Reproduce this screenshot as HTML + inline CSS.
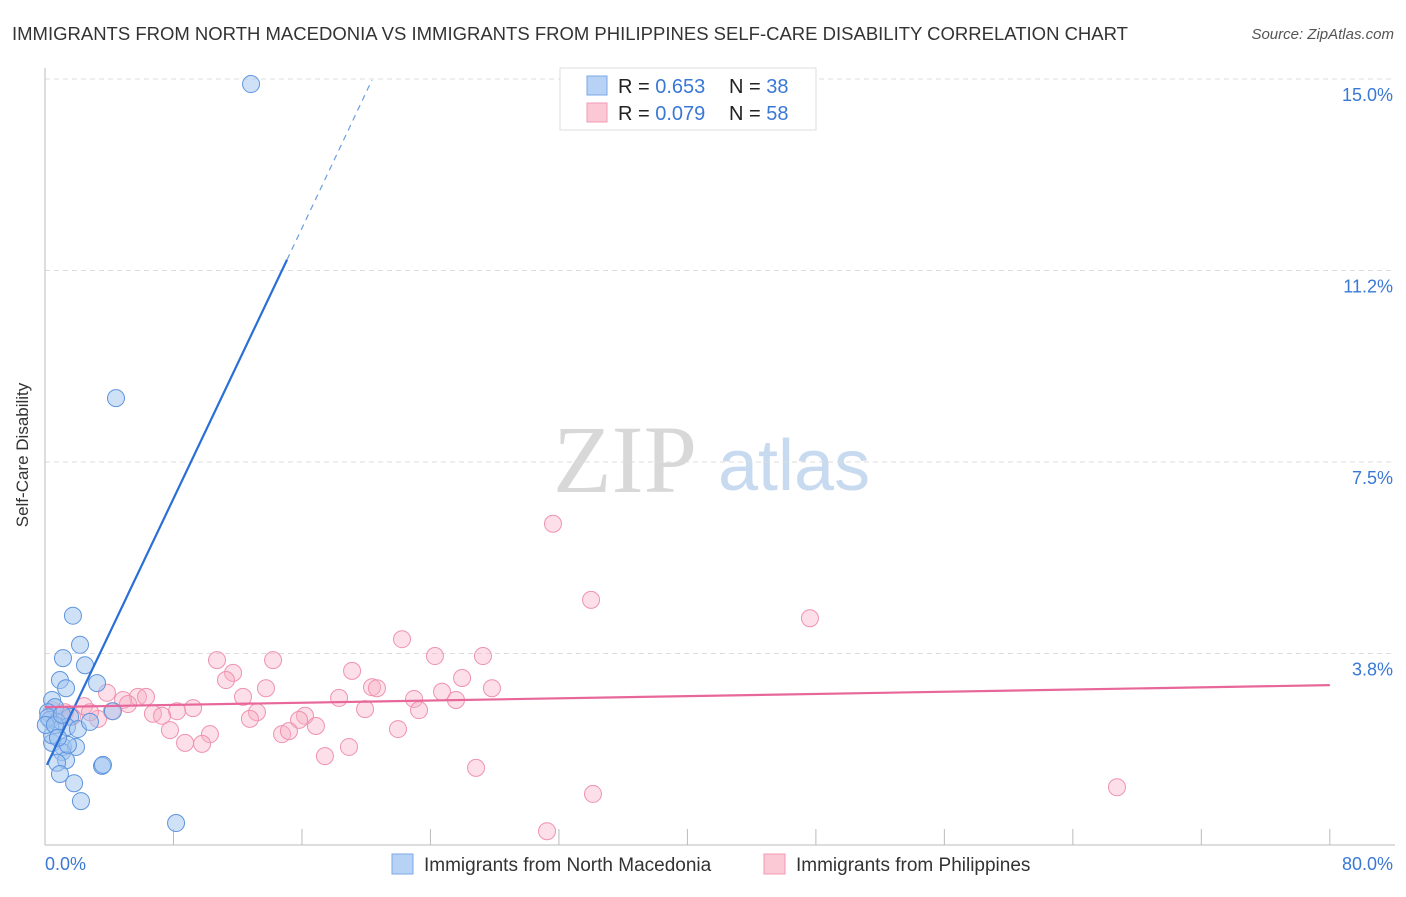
<!DOCTYPE html>
<html><head><meta charset="utf-8"><style>
body{margin:0;background:#fff;font-family:"Liberation Sans",sans-serif;}
</style></head><body>
<svg width="1406" height="892" xmlns="http://www.w3.org/2000/svg" font-family="Liberation Sans, sans-serif">
<text x="12" y="40" font-size="18.5" fill="#333">IMMIGRANTS FROM NORTH MACEDONIA VS IMMIGRANTS FROM PHILIPPINES SELF-CARE DISABILITY CORRELATION CHART</text>
<text x="1394" y="39" font-size="15" fill="#555" font-style="italic" text-anchor="end">Source: ZipAtlas.com</text>
<text x="28" y="455" font-size="17" fill="#333" text-anchor="middle" transform="rotate(-90 28 455)">Self-Care Disability</text>
<g>
<text x="553" y="492" font-size="96" font-family="Liberation Serif, serif" fill="#d8d8d8">ZIP</text>
<text x="718" y="490" font-size="72" fill="#c8daf0">atlas</text>
</g>
<g id="grid"></g><g id="axes"></g><g id="pts"></g><g id="trend"></g>
<g>
<rect x="560" y="68" width="256" height="62" fill="#fff" stroke="#ddd"/>
<rect x="587" y="76" width="20" height="19" fill="#b8d2f5" stroke="#7aa8e6"/>
<rect x="587" y="103" width="20" height="19" fill="#fbc8d6" stroke="#f09ab4"/>
<text x="618" y="93" font-size="20" fill="#222">R = <tspan fill="#3a78d6">0.653</tspan></text>
<text x="729" y="93" font-size="20" fill="#222">N = <tspan fill="#3a78d6">38</tspan></text>
<text x="618" y="120" font-size="20" fill="#222">R = <tspan fill="#3a78d6">0.079</tspan></text>
<text x="729" y="120" font-size="20" fill="#222">N = <tspan fill="#3a78d6">58</tspan></text>
</g>
<g>
<rect x="392" y="854" width="21" height="20" fill="#b8d2f5" stroke="#7aa8e6"/>
<text x="424" y="871" font-size="19" fill="#333">Immigrants from North Macedonia</text>
<rect x="764" y="854" width="21" height="20" fill="#fbc8d6" stroke="#f09ab4"/>
<text x="796" y="871" font-size="19" fill="#333">Immigrants from Philippines</text>
</g>
</svg>
<script>
const yTicks=[3.75,7.5,11.25,15];
const yTickLabels=["3.8%","7.5%","11.2%","15.0%"];
const xTicks=[0,8,16,24,32,40,48,56,64,72,80];
const blueX=[12.83,4.42,1.74,2.18,1.12,2.49,0.93,1.31,3.24,0.44,0.62,0.19,0.31,1.56,0.75,1.37,2.05,2.80,4.23,0.44,1.12,1.93,1.06,1.31,0.75,3.55,3.61,0.93,1.81,2.24,8.16,0.2,0.44,0.05,0.62,1.06,1.43,0.81];
const blueY=[14.90,8.75,4.49,3.92,3.66,3.52,3.23,3.07,3.17,2.84,2.70,2.60,2.45,2.51,2.41,2.31,2.27,2.41,2.62,2.00,1.92,1.92,1.82,1.66,1.61,1.55,1.57,1.39,1.21,0.86,0.43,2.5,2.15,2.35,2.35,2.55,1.96,2.10];
const pinkX=[31.63,34.00,47.63,22.23,24.28,27.27,10.71,14.20,19.12,11.71,11.27,25.97,13.76,20.36,20.67,27.83,24.72,3.86,5.79,6.29,12.33,18.31,4.86,22.98,25.59,5.17,2.43,9.22,19.93,23.29,4.17,6.72,8.22,7.29,13.20,16.19,15.82,12.76,3.30,1.68,0.93,16.87,7.78,10.27,14.76,15.19,21.98,8.72,9.78,18.93,17.43,26.84,66.75,34.12,31.26,0.44,1.25,2.80];
const pinkY=[6.29,4.80,4.44,4.03,3.70,3.70,3.62,3.62,3.41,3.37,3.23,3.27,3.07,3.09,3.07,3.07,3.00,2.98,2.90,2.90,2.90,2.88,2.84,2.86,2.84,2.76,2.72,2.68,2.66,2.64,2.62,2.57,2.62,2.53,2.60,2.53,2.45,2.47,2.47,2.51,2.53,2.33,2.25,2.17,2.17,2.23,2.27,2.00,1.98,1.92,1.74,1.51,1.13,1.00,0.27,2.64,2.60,2.60];
const blueTrend=[0.12,1.57,15.07,11.46,20.36,14.98];
const pinkTrend=[0,2.70,80,3.13];
const NS="http://www.w3.org/2000/svg";
const sx=v=>45+v*16.06, sy=v=>845-v*51.07;
function mk(tag,parent,attrs){const e=document.createElementNS(NS,tag);for(const k in attrs)e.setAttribute(k,attrs[k]);document.getElementById(parent).appendChild(e);return e;}
yTicks.forEach((t,i)=>{
 const l=mk('line','grid',{x1:45,x2:1395,y1:sy(t),y2:sy(t),stroke:'#ddd','stroke-dasharray':'5,4'});
 
 
 const tx=mk('text','axes',{x:1393,y:sy(t)+22,'font-size':18,fill:'#3a78d6','text-anchor':'end'});
 tx.textContent=yTickLabels[i];
 
 
});
const ax=mk('line','axes',{x1:45,x2:1395,y1:845,y2:845,stroke:'#bbb'});


const ay=mk('line','axes',{x1:45,x2:45,y1:68,y2:845,stroke:'#bbb'});


xTicks.forEach(t=>{const l=mk('line','axes',{x1:sx(t),x2:sx(t),y1:829,y2:845,stroke:'#bbb'});
 
 });
const x0=mk('text','axes',{x:45,y:870,'font-size':18,fill:'#3a78d6'});x0.textContent='0.0%';


const x1=mk('text','axes',{x:1393,y:870,'font-size':18,fill:'#3a78d6','text-anchor':'end'});x1.textContent='80.0%';


pinkX.forEach((x,i)=>{const c=mk('circle','pts',{cx:sx(x),cy:sy(pinkY[i]),r:8.5,fill:'rgba(248,175,198,0.4)',stroke:'#ef93b0','stroke-width':1});
 
 });
blueX.forEach((x,i)=>{const c=mk('circle','pts',{cx:sx(x),cy:sy(blueY[i]),r:8.5,fill:'rgba(160,196,240,0.5)',stroke:'#5f95dd','stroke-width':1});
 
 });
const bt=mk('line','trend',{x1:sx(blueTrend[0]),y1:sy(blueTrend[1]),x2:sx(blueTrend[2]),y2:sy(blueTrend[3]),stroke:'#2a6fd6','stroke-width':2.2});


const bd=mk('line','trend',{x1:sx(blueTrend[2]),y1:sy(blueTrend[3]),x2:sx(blueTrend[4]),y2:sy(blueTrend[5]),stroke:'#6a9ee0','stroke-width':1.2,'stroke-dasharray':'6,5'});


const pt=mk('line','trend',{x1:sx(pinkTrend[0]),y1:sy(pinkTrend[1]),x2:sx(pinkTrend[2]),y2:sy(pinkTrend[3]),stroke:'#e8679a','stroke-width':2.2});


</script>
</body></html>
